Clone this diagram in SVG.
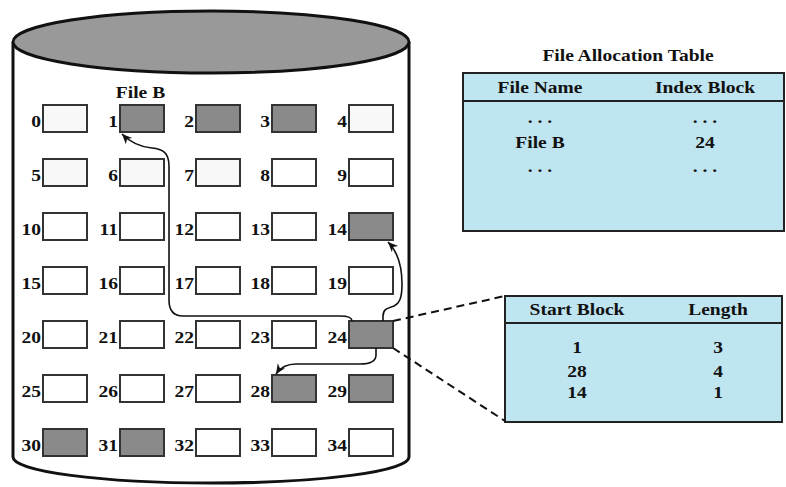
<svg xmlns="http://www.w3.org/2000/svg" width="786" height="487" viewBox="0 0 786 487">
  <style>
    text { font-family: "Liberation Serif", "Times New Roman", serif; font-weight: bold; font-size: 16px; fill: #111; }
    .lbl { text-anchor: end; }
    .mid { text-anchor: middle; }
    .blk { fill: #ffffff; stroke: #333; stroke-width: 2; }
    .blk.pale { fill: #f8f8f8; }
    .blk.used { fill: #8a8a8a; }
    .tbl { fill: #bfe5f0; stroke: #222; stroke-width: 2; }
    .rule { stroke: #222; stroke-width: 2; }
    .link { fill: none; stroke: #111; stroke-width: 1.6; marker-end: url(#head); }
    .dash { fill: none; stroke: #111; stroke-width: 2; stroke-dasharray: 8 5; }
  </style>
  <defs>
    <marker id="head" markerUnits="userSpaceOnUse" markerWidth="12" markerHeight="10" refX="10" refY="4.5" orient="auto">
      <path d="M0,0 L10,4.5 L0,9 L3,4.5 z" fill="#111"/>
    </marker>
  </defs>

  <!-- disk cylinder -->
  <g id="disk">
    <path d="M13,42 L13,457 A198,26 0 0 0 409,457 L409,42" fill="#fff" stroke="#111" stroke-width="3"/>
    <ellipse cx="211" cy="42" rx="198" ry="31" fill="#999" stroke="#111" stroke-width="3"/>
    <text transform="translate(140.5 98) scale(1.22 1)" class="mid">File B</text>
  </g>

  <!-- disk blocks: columns x = 43,120,196,272,349; rows y = 105 + 54n -->
  <g id="blocks">
    <g id="b0"><rect class="blk pale" x="43" y="105" width="44" height="27"/><text class="lbl" transform="translate(41 127) scale(1.22 1)">0</text></g>
    <g id="b1"><rect class="blk used" x="120" y="105" width="44" height="27"/><text class="lbl" transform="translate(118 127) scale(1.22 1)">1</text></g>
    <g id="b2"><rect class="blk used" x="196" y="105" width="44" height="27"/><text class="lbl" transform="translate(194 127) scale(1.22 1)">2</text></g>
    <g id="b3"><rect class="blk used" x="272" y="105" width="44" height="27"/><text class="lbl" transform="translate(270 127) scale(1.22 1)">3</text></g>
    <g id="b4"><rect class="blk pale" x="349" y="105" width="44" height="27"/><text class="lbl" transform="translate(347 127) scale(1.22 1)">4</text></g>

    <g id="b5"><rect class="blk pale" x="43" y="159" width="44" height="27"/><text class="lbl" transform="translate(41 181) scale(1.22 1)">5</text></g>
    <g id="b6"><rect class="blk pale" x="120" y="159" width="44" height="27"/><text class="lbl" transform="translate(118 181) scale(1.22 1)">6</text></g>
    <g id="b7"><rect class="blk pale" x="196" y="159" width="44" height="27"/><text class="lbl" transform="translate(194 181) scale(1.22 1)">7</text></g>
    <g id="b8"><rect class="blk" x="272" y="159" width="44" height="27"/><text class="lbl" transform="translate(270 181) scale(1.22 1)">8</text></g>
    <g id="b9"><rect class="blk" x="349" y="159" width="44" height="27"/><text class="lbl" transform="translate(347 181) scale(1.22 1)">9</text></g>

    <g id="b10"><rect class="blk" x="43" y="213" width="44" height="27"/><text class="lbl" transform="translate(41 235) scale(1.22 1)">10</text></g>
    <g id="b11"><rect class="blk" x="120" y="213" width="44" height="27"/><text class="lbl" transform="translate(118 235) scale(1.22 1)">11</text></g>
    <g id="b12"><rect class="blk" x="196" y="213" width="44" height="27"/><text class="lbl" transform="translate(194 235) scale(1.22 1)">12</text></g>
    <g id="b13"><rect class="blk" x="272" y="213" width="44" height="27"/><text class="lbl" transform="translate(270 235) scale(1.22 1)">13</text></g>
    <g id="b14"><rect class="blk used" x="349" y="213" width="44" height="27"/><text class="lbl" transform="translate(347 235) scale(1.22 1)">14</text></g>

    <g id="b15"><rect class="blk" x="43" y="267" width="44" height="27"/><text class="lbl" transform="translate(41 289) scale(1.22 1)">15</text></g>
    <g id="b16"><rect class="blk" x="120" y="267" width="44" height="27"/><text class="lbl" transform="translate(118 289) scale(1.22 1)">16</text></g>
    <g id="b17"><rect class="blk" x="196" y="267" width="44" height="27"/><text class="lbl" transform="translate(194 289) scale(1.22 1)">17</text></g>
    <g id="b18"><rect class="blk" x="272" y="267" width="44" height="27"/><text class="lbl" transform="translate(270 289) scale(1.22 1)">18</text></g>
    <g id="b19"><rect class="blk" x="349" y="267" width="44" height="27"/><text class="lbl" transform="translate(347 289) scale(1.22 1)">19</text></g>

    <g id="b20"><rect class="blk" x="43" y="321" width="44" height="27"/><text class="lbl" transform="translate(41 343) scale(1.22 1)">20</text></g>
    <g id="b21"><rect class="blk" x="120" y="321" width="44" height="27"/><text class="lbl" transform="translate(118 343) scale(1.22 1)">21</text></g>
    <g id="b22"><rect class="blk" x="196" y="321" width="44" height="27"/><text class="lbl" transform="translate(194 343) scale(1.22 1)">22</text></g>
    <g id="b23"><rect class="blk" x="272" y="321" width="44" height="27"/><text class="lbl" transform="translate(270 343) scale(1.22 1)">23</text></g>
    <g id="b24"><rect class="blk used" x="349" y="321" width="44" height="27"/><text class="lbl" transform="translate(347 343) scale(1.22 1)">24</text></g>

    <g id="b25"><rect class="blk" x="43" y="375" width="44" height="27"/><text class="lbl" transform="translate(41 397) scale(1.22 1)">25</text></g>
    <g id="b26"><rect class="blk" x="120" y="375" width="44" height="27"/><text class="lbl" transform="translate(118 397) scale(1.22 1)">26</text></g>
    <g id="b27"><rect class="blk" x="196" y="375" width="44" height="27"/><text class="lbl" transform="translate(194 397) scale(1.22 1)">27</text></g>
    <g id="b28"><rect class="blk used" x="272" y="375" width="44" height="27"/><text class="lbl" transform="translate(270 397) scale(1.22 1)">28</text></g>
    <g id="b29"><rect class="blk used" x="349" y="375" width="44" height="27"/><text class="lbl" transform="translate(347 397) scale(1.22 1)">29</text></g>

    <g id="b30"><rect class="blk used" x="43" y="429" width="44" height="27"/><text class="lbl" transform="translate(41 451) scale(1.22 1)">30</text></g>
    <g id="b31"><rect class="blk used" x="120" y="429" width="44" height="27"/><text class="lbl" transform="translate(118 451) scale(1.22 1)">31</text></g>
    <g id="b32"><rect class="blk" x="196" y="429" width="44" height="27"/><text class="lbl" transform="translate(194 451) scale(1.22 1)">32</text></g>
    <g id="b33"><rect class="blk" x="272" y="429" width="44" height="27"/><text class="lbl" transform="translate(270 451) scale(1.22 1)">33</text></g>
    <g id="b34"><rect class="blk" x="349" y="429" width="44" height="27"/><text class="lbl" transform="translate(347 451) scale(1.22 1)">34</text></g>
  </g>

  <!-- file allocation table -->
  <g id="fat">
    <text class="mid" transform="translate(628 61) scale(1.22 1)">File Allocation Table</text>
    <rect class="tbl" x="463" y="73" width="321" height="158"/>
    <line class="rule" x1="463" y1="101" x2="784" y2="101"/>
    <text class="mid" transform="translate(540 93) scale(1.22 1)">File Name</text>
    <text class="mid" transform="translate(705 93) scale(1.22 1)">Index Block</text>
    <text class="mid" transform="translate(540 123) scale(1.22 1)">. . .</text>
    <text class="mid" transform="translate(705 123) scale(1.22 1)">. . .</text>
    <text class="mid" transform="translate(540 148) scale(1.22 1)">File B</text>
    <text class="mid" transform="translate(705 148) scale(1.22 1)">24</text>
    <text class="mid" transform="translate(540 172) scale(1.22 1)">. . .</text>
    <text class="mid" transform="translate(705 172) scale(1.22 1)">. . .</text>
  </g>

  <!-- contents of index block 24 -->
  <g id="index-block">
    <rect class="tbl" x="505" y="296" width="277" height="126"/>
    <line class="rule" x1="505" y1="323" x2="782" y2="323"/>
    <text class="mid" transform="translate(577 315) scale(1.22 1)">Start Block</text>
    <text class="mid" transform="translate(718 315) scale(1.22 1)">Length</text>
    <text class="mid" transform="translate(577 353) scale(1.22 1)">1</text>
    <text class="mid" transform="translate(718 353) scale(1.22 1)">3</text>
    <text class="mid" transform="translate(577 377) scale(1.22 1)">28</text>
    <text class="mid" transform="translate(718 377) scale(1.22 1)">4</text>
    <text class="mid" transform="translate(577 398) scale(1.22 1)">14</text>
    <text class="mid" transform="translate(718 398) scale(1.22 1)">1</text>
  </g>

  <!-- connectors -->
  <g id="connectors">
    <path class="link" d="M352,321 C352,317 347,316 340,316 L183,316 C173,316 169,310 169,300 L169,166 C169,152 162,149 152,148 C140,147 130,142 122,134"/>
    <path class="link" d="M383,321 L383,316 C383,309 388,308 394,306 C400,303 402,297 402,284 C402,262 396,250 388,242"/>
    <path class="link" d="M376,348 L376,355 C376,361 370,364 360,364 L296,364 C286,364 280,368 276,374"/>
    <line class="dash" x1="393" y1="321" x2="505" y2="296"/>
    <line class="dash" x1="393" y1="348" x2="505" y2="421"/>
  </g>
</svg>
